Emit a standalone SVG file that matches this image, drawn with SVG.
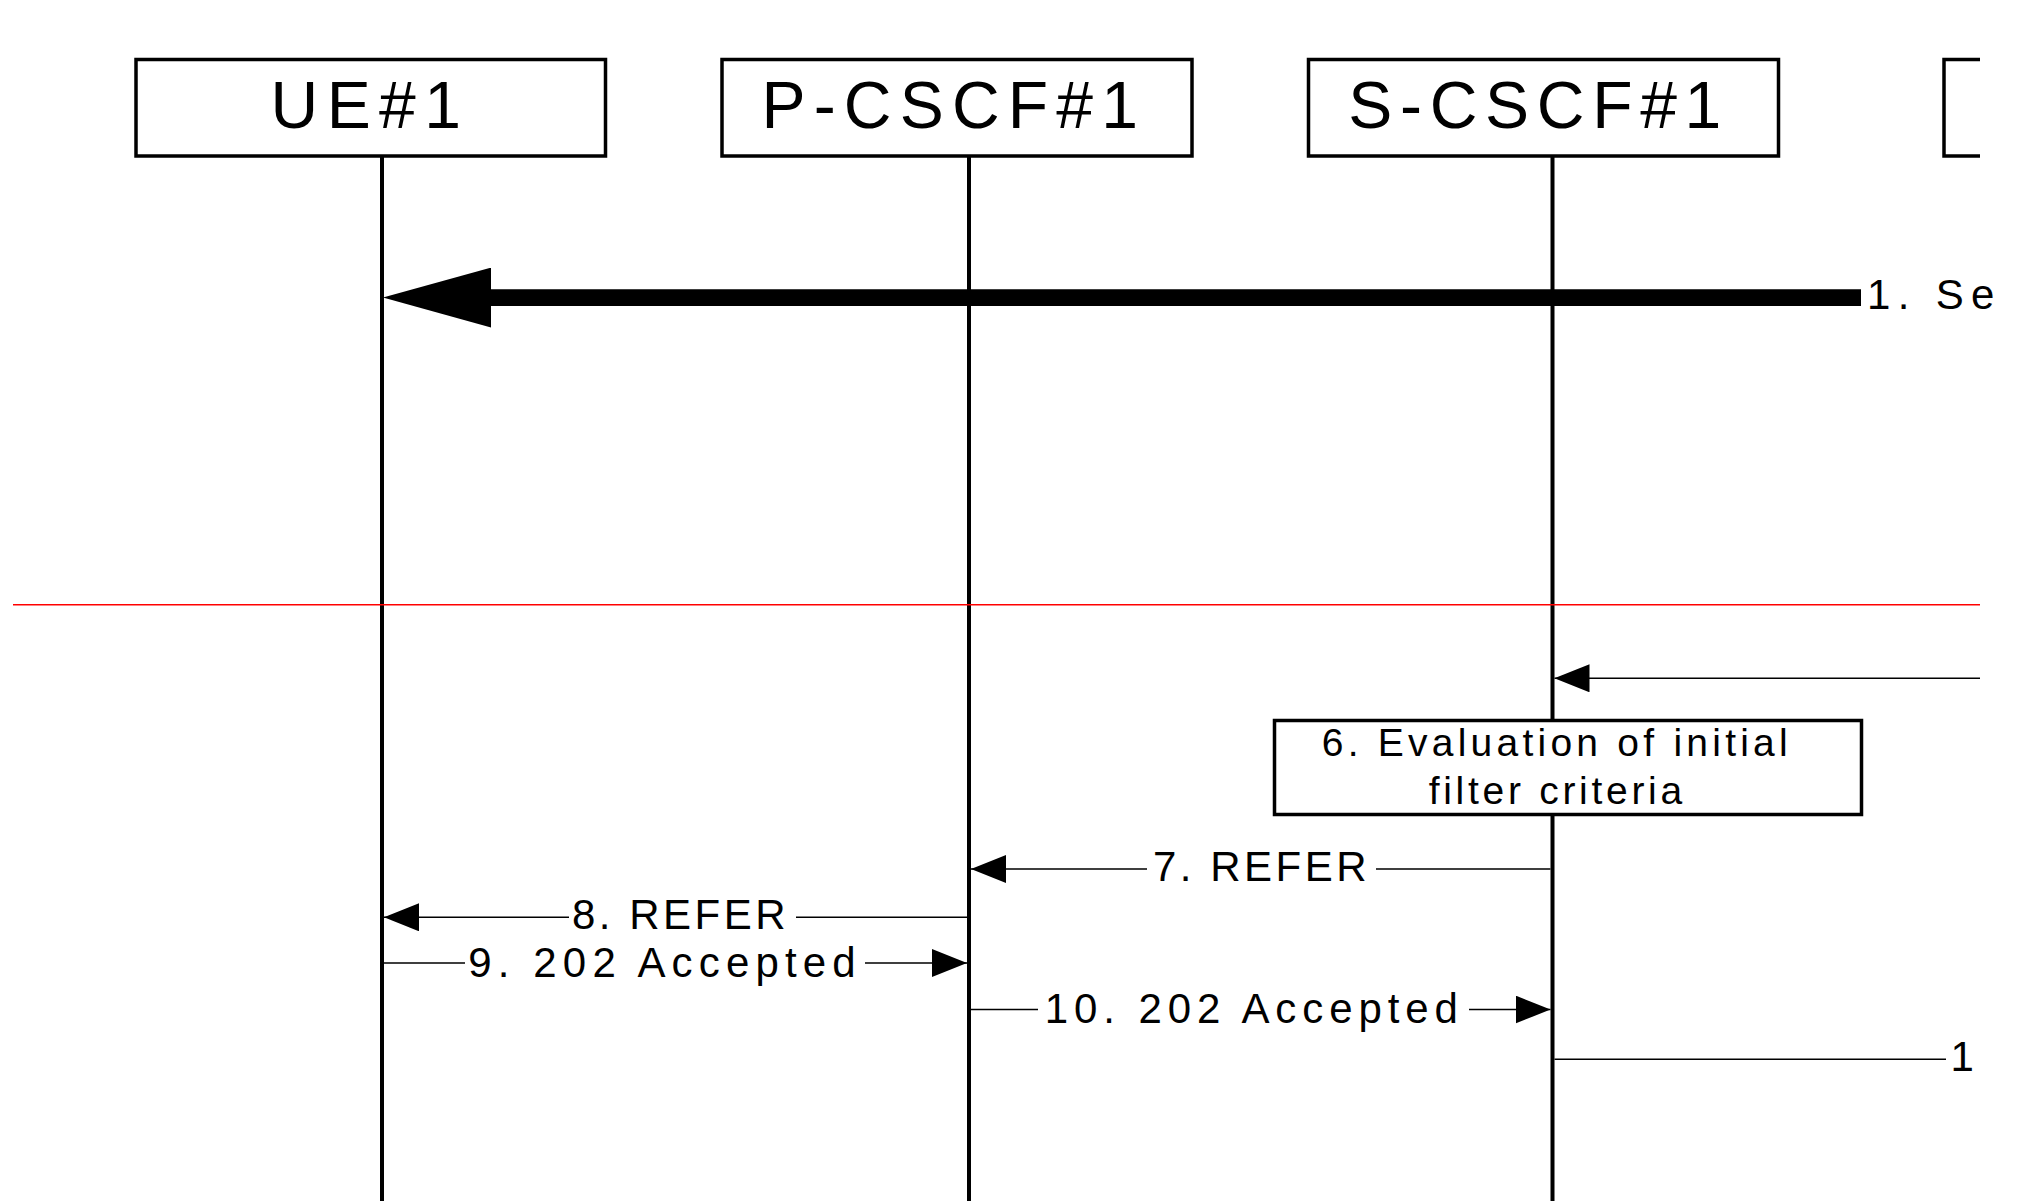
<svg xmlns="http://www.w3.org/2000/svg" width="2020" height="1201" viewBox="0 0 2020 1201">
<style>
.box{fill:#fff;stroke:#000;stroke-width:3.5}
.life{stroke:#000;stroke-width:4;fill:none}
.title{font-family:"Liberation Sans",Arial,sans-serif;font-size:66px;fill:#000}
.lbl{font-family:"Liberation Sans",Arial,sans-serif;font-size:42px;fill:#000}
.note{font-family:"Liberation Sans",Arial,sans-serif;font-size:39px;fill:#000}
.msg{stroke:#000;stroke-width:1.4;fill:none;marker-end:url(#ah)}
.plain{stroke:#000;stroke-width:1.4;fill:none}
.big{stroke:#000;stroke-width:16.7;fill:none;marker-end:url(#bigah)}
.sep{stroke:#ff0000;stroke-width:1.5;fill:none}
</style>
<defs>
<marker id="ah" markerUnits="userSpaceOnUse" viewBox="0 0 35 28" refX="35" refY="14" markerWidth="35" markerHeight="28" orient="auto">
<path d="M0,0 L35,14 L0,28 z" fill="#000"/>
</marker>
<marker id="bigah" markerUnits="userSpaceOnUse" viewBox="0 0 108 60" refX="0" refY="30" markerWidth="108" markerHeight="60" orient="auto">
<path d="M0,0 L108,30 L0,60 z" fill="#000"/>
</marker>
</defs>
<rect width="2020" height="1201" fill="#fff"/>

<g id="lifelines">
<line class="life" x1="382" y1="156" x2="382" y2="1201"/>
<line class="life" x1="969" y1="156" x2="969" y2="1201"/>
<line class="life" x1="1552.5" y1="156" x2="1552.5" y2="1201"/>
</g>

<g id="node-ue1">
<rect class="box" x="136" y="59.5" width="469.5" height="96.5"/>
<text class="title" x="270.5" y="127.5" textLength="190.5" lengthAdjust="spacing">UE#1</text>
</g>
<g id="node-pcscf1">
<rect class="box" x="722" y="59.5" width="470" height="96.5"/>
<text class="title" x="761.4" y="127.5" textLength="376.6" lengthAdjust="spacing">P-CSCF#1</text>
</g>
<g id="node-scscf1">
<rect class="box" x="1308.5" y="59.5" width="470" height="96.5"/>
<text class="title" x="1348.3" y="127.5" textLength="373" lengthAdjust="spacing">S-CSCF#1</text>
</g>
<g id="node-partial">
<path d="M1980,59.5 H1944 V156 H1980" fill="none" stroke="#000" stroke-width="3.5"/>
</g>

<g id="separator">
<line class="sep" x1="13" y1="604.7" x2="1980" y2="604.7"/>
</g>

<g id="connectors">
<path class="big" d="M1861,297.6 H491"/>
<text class="lbl" x="1867.1" y="309.3" textLength="127.3" lengthAdjust="spacing">1. Se</text>

<path class="msg" d="M1980,678.3 H1554.5"/>

<path class="msg" d="M1550.5,869 H1376 M1147,869 H971"/>
<text class="lbl" x="1153" y="881" textLength="213.5" lengthAdjust="spacing">7. REFER</text>

<path class="msg" d="M967,917.3 H796 M569,917.3 H384"/>
<text class="lbl" x="572" y="929.3" textLength="213.5" lengthAdjust="spacing">8. REFER</text>

<path class="msg" d="M384,963 H465 M865,963 H967"/>
<text class="lbl" x="468.2" y="977" textLength="387.4" lengthAdjust="spacing">9. 202 Accepted</text>

<path class="msg" d="M971,1009.5 H1038 M1469,1009.5 H1550.5"/>
<text class="lbl" x="1044.7" y="1023.3" textLength="413.2" lengthAdjust="spacing">10. 202 Accepted</text>

<path class="plain" d="M1554.5,1059.3 H1946"/>
<text class="lbl" x="1950.5" y="1071">1</text>
</g>

<g id="node-step6">
<rect class="box" x="1274.5" y="720.5" width="587" height="94"/>
<text class="note" x="1321.7" y="755.5" textLength="466" lengthAdjust="spacing">6. Evaluation of initial</text>
<text class="note" x="1428.7" y="804" textLength="253.5" lengthAdjust="spacing">filter criteria</text>
</g>
</svg>
